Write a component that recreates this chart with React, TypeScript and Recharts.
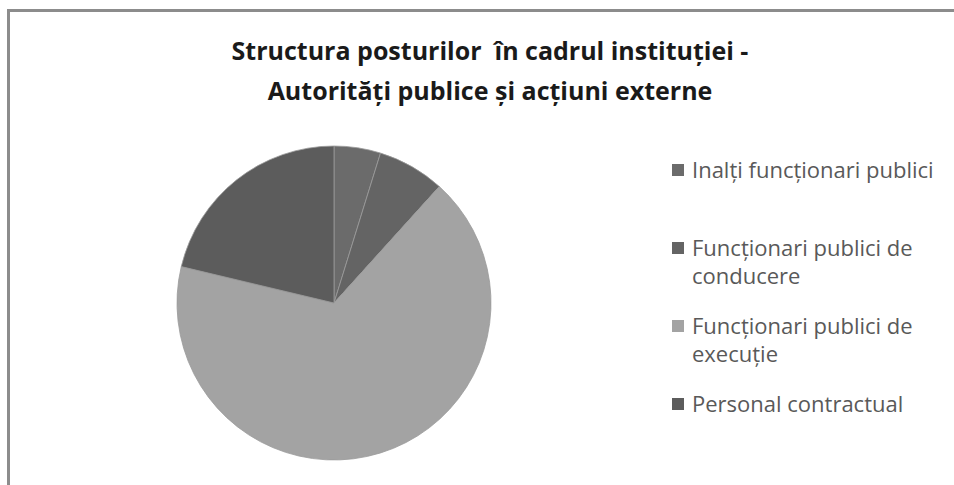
import React from 'react';
import { PieChart, Pie, Cell, Legend } from 'recharts';

// Structura posturilor - numar de posturi pe categorii
const categories = [
  'Inalți funcționari publici',
  'Funcționari publici de conducere',
  'Funcționari publici de execuție',
  'Personal contractual'
];
const posts = [9, 13, 126, 40];
const sliceColors = ['#6b6b6b', '#646464', '#a3a3a3', '#5c5c5c'];

const titleLines = [
  'Structura posturilor  în cadrul instituției -',
  'Autorități publice și acțiuni externe'
];

const data = categories.map((name, i) => ({ name, value: posts[i] }));

const renderLegend = (props: any) => {
  // keep the original category order
  const items = [...(props.payload || [])].sort(
    (a: any, b: any) => categories.indexOf(a.value) - categories.indexOf(b.value)
  );
  return (
    <div style={{ width: 275 }}>
      {items.map((entry: any, index: number) => (
        <div
          key={`item-${index}`}
          style={{
            display: 'flex',
            alignItems: 'flex-start',
            height: 78,
            fontFamily: '"Open Sans", sans-serif',
            fontSize: 22,
            lineHeight: '28px',
            color: '#595959'
          }}
        >
          <span
            style={{
              display: 'inline-block',
              width: 12,
              height: 12,
              marginTop: 9,
              marginRight: 8,
              flexShrink: 0,
              background: entry.color
            }}
          />
          <span>{entry.value}</span>
        </div>
      ))}
    </div>
  );
};

export default function App() {
  return (
    <div
      style={{
        position: 'absolute',
        left: 0,
        top: 0,
        width: 954,
        height: 485,
        background: '#ffffff',
        overflow: 'hidden'
      }}
    >
      <div
        style={{
          position: 'absolute',
          left: 7,
          top: 9,
          width: 960,
          height: 490,
          borderTop: '3px solid #8c8c8c',
          borderLeft: '3px solid #8c8c8c'
        }}
      />
      <div
        style={{
          position: 'absolute',
          left: 0,
          top: 30,
          width: 980,
          textAlign: 'center',
          fontFamily: '"Open Sans", sans-serif',
          fontWeight: 'bold',
          fontSize: 25,
          lineHeight: '40px',
          color: '#1a1a1a'
        }}
      >
        {titleLines.map((line, i) => (
          <div key={i} style={{ whiteSpace: 'pre' }}>{line}</div>
        ))}
      </div>
      <div style={{ position: 'absolute', left: 0, top: 0 }}>
        <PieChart width={954} height={485}>
          <Pie
            data={data}
            dataKey="value"
            nameKey="name"
            cx={329}
            cy={298}
            outerRadius={157}
            startAngle={90}
            endAngle={-270}
            stroke="#9a9a9a"
            strokeWidth={0.8}
            isAnimationActive={false}
          >
            {data.map((entry, index) => (
              <Cell key={`cell-${index}`} fill={sliceColors[index]} />
            ))}
          </Pie>
          <Legend
            layout="vertical"
            content={renderLegend}
            wrapperStyle={{ position: 'absolute', left: 672, top: 155, width: 280 }}
          />
        </PieChart>
      </div>
    </div>
  );
}
